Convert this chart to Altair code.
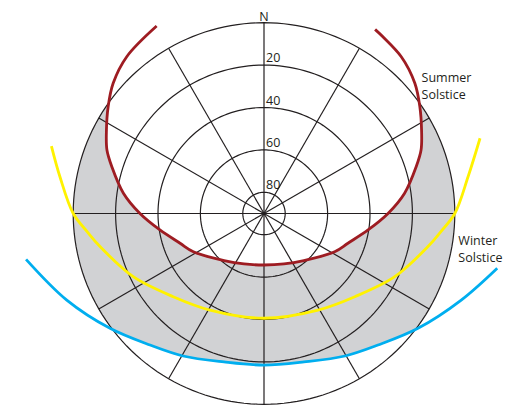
import altair as alt
import numpy as np
import pandas as pd

# ---------------- data (azimuth from north, clockwise, degrees; altitude degrees) ----------------
ring_alts = [0, 20, 40, 60, 80]
ring_label_alts = [20, 40, 60, 80]
ring_labels = ["20", "40", "60", "80"]
spoke_azimuths = [0, 30, 60, 90, 120, 150, 180, 210, 240, 270, 300, 330]

summer_az = [330.2, 318.8, 310.8, 304.4, 297.9, 292.0, 287.1, 278.2, 270.0, 261.0, 250.5, 241.6,
             220.3, 201.6, 180.0, 158.4, 139.7, 118.4, 109.5, 99.0, 90.0, 81.8, 72.9, 68.0,
             62.1, 55.6, 49.2, 41.2, 31.1]
summer_alt = [-11.9, -8.3, -4.0, 0.9, 5.9, 10.1, 14.9, 23.0, 31.5, 40.3, 48.0, 52.1,
              60.9, 64.4, 65.7, 64.4, 60.9, 52.1, 48.0, 40.3, 31.5, 23.0, 14.9, 10.1,
              5.9, 0.9, -4.0, -8.3, -11.4]

equinox_az = [287.6, 280.2, 270.0, 264.1, 258.6, 244.2, 227.5, 209.2, 180.0,
              150.8, 132.5, 115.8, 101.4, 95.9, 90.0, 79.8, 70.8]
equinox_alt = [-15.2, -7.8, 0.0, 6.2, 11.1, 21.5, 31.9, 37.8, 40.6,
               37.8, 31.9, 21.5, 11.1, 6.2, 0.0, -7.8, -17.9]

winter_az = [259.1, 246.3, 233.3, 220.9, 209.6, 195.1, 180.0, 164.9, 150.4, 139.1, 126.7, 113.7, 103.2]
winter_alt = [-24.3, -11.6, -0.6, 7.9, 12.7, 17.5, 18.5, 17.5, 12.7, 7.9, -0.6, -11.6, -23.0]

series_names = ["Summer Solstice", "Equinox", "Winter Solstice"]
series_colors = ["#9e1c22", "#fff200", "#00aeef"]

label_text = ["Summer\nSolstice", "Winter\nSolstice"]
label_az = [50.1, 99.3]
label_alt = [-6.9, -2.9]

# ---------------- layout ----------------
W, H = 514, 406
CX, CY, K = 264, 213.5, 2.12          # centre of the dial and pixels per degree
xdom = [-CX / K, (W - CX) / K]
ydom = [-(H - CY) / K, CY / K]
INK = "#231f20"
GRAY = "#d1d2d4"
FONT = "Open Sans"

# ---------------- tables ----------------
ring_steps = np.arange(0, 362, 2)
rings = pd.DataFrame([
    {"ring": a, "az": float(z), "alt": a, "i": j}
    for a in ring_alts for j, z in enumerate(ring_steps)
])
spokes = pd.DataFrame([
    {"spoke": z, "az": z, "alt": a, "i": j}
    for z in spoke_azimuths for j, a in enumerate([90, 0])
])

curve_rows = []
for name, azs, alts in zip(series_names,
                           [summer_az, equinox_az, winter_az],
                           [summer_alt, equinox_alt, winter_alt]):
    for j, (z, a) in enumerate(zip(azs, alts)):
        curve_rows.append({"series": name, "az": z, "alt": a, "i": j})
curves = pd.DataFrame(curve_rows)

# gray band: between summer and winter paths, inside the horizon circle
poly = [(z, a) for z, a in zip(summer_az, summer_alt) if a >= 0]
poly += [(float(z), 0.0) for z in ring_steps if 56 <= z <= 126]
poly += [(z, a) for z, a in reversed(list(zip(winter_az, winter_alt))) if a >= -1]
poly += [(float(z), 0.0) for z in ring_steps if 234 <= z <= 304]
band = pd.DataFrame([{"az": z, "alt": a, "i": j} for j, (z, a) in enumerate(poly)])

labels = pd.DataFrame({"text": label_text, "az": label_az, "alt": label_alt})
ring_lab = pd.DataFrame({"text": ring_labels, "az": [0] * 4, "alt": ring_label_alts})
north = pd.DataFrame({"text": ["N"], "az": [0], "alt": [0]})

# ---------------- chart ----------------
X = alt.X("x:Q", scale=alt.Scale(domain=xdom, nice=False, zero=False), axis=None)
Y = alt.Y("y:Q", scale=alt.Scale(domain=ydom, nice=False, zero=False), axis=None)


def base(df):
    return alt.Chart(df).transform_calculate(
        x="(90 - datum.alt) * sin(datum.az * PI / 180)",
        y="(90 - datum.alt) * cos(datum.az * PI / 180)",
    )


band_layer = base(band).mark_line(filled=True, color=GRAY, interpolate="catmull-rom").encode(
    x=X, y=Y, order="i:Q")

ring_layer = base(rings).mark_line(color=INK, strokeWidth=1.2).encode(
    x=X, y=Y, detail="ring:N", order="i:Q")

spoke_layer = base(spokes).mark_line(color=INK, strokeWidth=1.2).encode(
    x=X, y=Y, detail="spoke:N", order="i:Q")

curve_layer = base(curves).mark_line(strokeWidth=2.8, interpolate="catmull-rom").encode(
    x=X, y=Y,
    color=alt.Color("series:N", scale=alt.Scale(domain=series_names, range=series_colors), legend=None),
    detail="series:N", order="i:Q")

north_layer = base(north).mark_text(font=FONT, fontSize=12.5, color=INK, align="center",
                                    baseline="alphabetic", dy=-2).encode(x=X, y=Y, text="text:N")

ring_lab_layer = base(ring_lab).mark_text(font=FONT, fontSize=12.5, color=INK, align="left",
                                          baseline="alphabetic", dx=2, dy=-3).encode(x=X, y=Y, text="text:N")

label_layer = base(labels).mark_text(font=FONT, fontSize=12.5, color=INK, align="left",
                                     baseline="alphabetic", lineBreak="\n", lineHeight=17).encode(
    x=X, y=Y, text="text:N")

chart = alt.layer(
    band_layer, ring_layer, spoke_layer, curve_layer, north_layer, ring_lab_layer, label_layer
).properties(
    width=W, height=H, padding=0, autosize=alt.AutoSizeParams(type="none")
).configure_view(strokeWidth=0)

chart.save("out.html", embed_options={"renderer": "svg", "actions": False})
